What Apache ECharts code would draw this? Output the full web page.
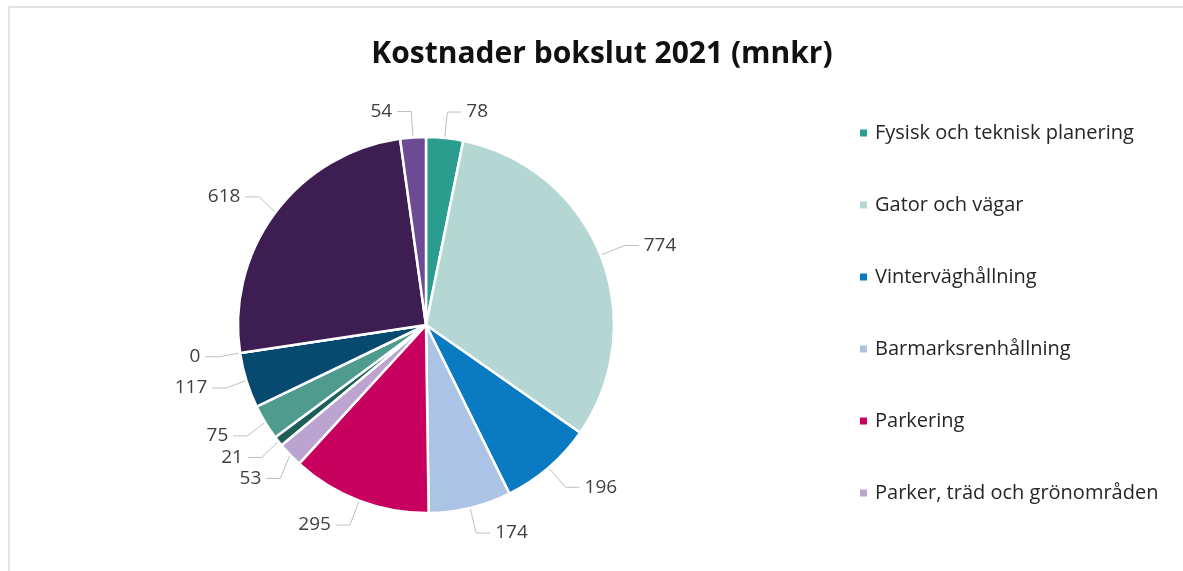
<!DOCTYPE html>
<html>
<head>
<meta charset="utf-8">
<script src="https://cdn.jsdelivr.net/npm/echarts@6/dist/echarts.min.js"></script>
<style>
  html, body { margin: 0; padding: 0; background: #fff; }
  #main { width: 1183px; height: 571px; }
</style>
</head>
<body>
<div id="main"></div>
<script>
// data
var categories = [
  'Fysisk och teknisk planering',
  'Gator och vägar',
  'Vinterväghållning',
  'Barmarksrenhållning',
  'Parkering',
  'Parker, träd och grönområden',
  'Kategori 7',
  'Kategori 8',
  'Kategori 9',
  'Kategori 10',
  'Kategori 11',
  'Kategori 12'
];
var values = [78, 774, 196, 174, 295, 53, 21, 75, 117, 0, 618, 54];
var legendNames = categories.slice(0, 6);

// colours (one per slice)
var palette = ['#2a9d8f', '#b5d7d4', '#0a7bc2', '#abc4e6', '#c8005f', '#bca4d1',
               '#1d5e58', '#4f9c8f', '#064a70', '#888888', '#3e1d52', '#6c4a94'];

var myChart = echarts.init(document.getElementById('main'));

var option = {
  backgroundColor: '#fff',
  color: palette,
  animation: false,
  graphic: [{
    type: 'rect',
    shape: { x: 9, y: 7, width: 1190, height: 600 },
    style: { fill: 'none', stroke: '#d9d9d9', lineWidth: 1.5 },
    silent: true
  }],
  title: {
    text: 'Kostnader bokslut 2021 (mnkr)',
    left: 597,
    textAlign: 'center',
    top: 34,
    textStyle: { fontFamily: 'Open Sans', fontSize: 30, fontWeight: 'bold', color: '#111' }
  },
  legend: {
    orient: 'vertical',
    left: 853,
    top: 118,
    itemGap: 52,
    itemWidth: 9,
    itemHeight: 9,
    icon: 'rect',
    data: legendNames,
    textStyle: { fontFamily: 'Open Sans', fontSize: 20, color: '#262626', padding: [0, 0, 0, 2] }
  },
  series: [{
    type: 'pie',
    center: [426, 325],
    radius: [0, 188],
    startAngle: 90,
    clockwise: true,
    avoidLabelOverlap: true,
    stillShowZeroSum: true,
    itemStyle: { borderColor: '#fff', borderWidth: 2.5 },
    label: {
      show: true,
      formatter: '{c}',
      fontFamily: 'Open Sans',
      fontSize: 19,
      color: '#404040'
    },
    labelLine: {
      show: true,
      length: 26,
      length2: 14,
      lineStyle: { color: '#bfbfbf', width: 1 }
    },
    data: categories.map(function (name, i) {
      return { name: name, value: values[i] };
    })
  }]
};

myChart.setOption(option);
</script>
</body>
</html>
